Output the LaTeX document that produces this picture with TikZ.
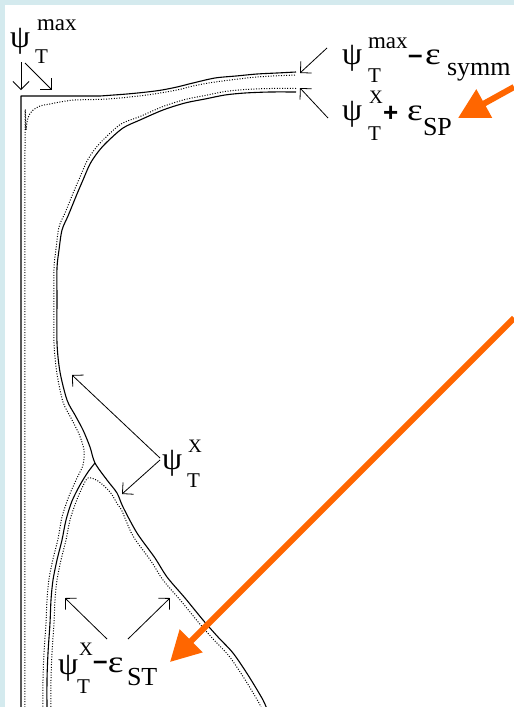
\documentclass[tikz,border=0pt]{standalone}
\usepackage{fontspec}
\usepackage{graphicx}
\usetikzlibrary{arrows.meta}
\newfontfamily\lserif{Liberation Serif}
\newfontfamily\lsans{Liberation Sans}
\definecolor{bgblue}{RGB}{212,234,238}
\definecolor{arrorange}{RGB}{255,102,0}
\newcommand{\fpsi}{\lserif\fontsize{32}{32}\selectfont}
\newcommand{\feps}{\lserif\fontsize{31}{31}\selectfont}
\newcommand{\fsupmax}{\lserif\fontsize{23}{23}\selectfont}
\newcommand{\fsupX}{\lserif\fontsize{19}{19}\selectfont}
\newcommand{\fsubT}{\lserif\fontsize{21}{21}\selectfont}
\newcommand{\fsubw}{\lserif\fontsize{26}{26}\selectfont}
\newcommand{\fop}{\lsans\bfseries\fontsize{26}{26}\selectfont}
\newcommand{\psisym}{{\fpsi ψ}}
\newcommand{\epssym}{\scalebox{1.2}[1]{\feps ε}}
\tikzset{
  lab/.style={anchor=base west, inner sep=0pt, outer sep=0pt},
  solidc/.style={line width=1.1pt, black, line join=round},
  dotc/.style={line width=1pt, black, dash pattern=on 1pt off 1.6pt},
  thinarrow/.style={line width=0.8pt, black, -{Straight Barb[length=8pt,width=16pt]}},
  orangearrow/.style={arrorange, line width=6pt, -{Triangle[length=30pt,width=31pt]}}
}
\begin{document}
\begin{tikzpicture}[x=1pt,y=-1pt]
\useasboundingbox (0,0) rectangle (514,707);
\fill[bgblue] (0,0) rectangle (514,707);
\fill[white] (5,5) rectangle (514,707);
\begin{scope}
\clip (5,5) rectangle (514,707);
% outer boundary (solid) and its dotted companion
\draw[solidc] (21,710) -- (21,96) -- (100,96)
  plot[smooth, tension=0.5] coordinates {(100,96) (127,94) (147,92) (162,90) (177,87) (193,83) (215,78) (236,76) (257,74) (277,73) (296,72)};
\draw[dotc] plot[smooth, tension=0.5] coordinates {(25,710) (25,150) (26,130) (28,118) (32,111) (40,106) (50,104) (60,102) (75,100) (108,99) (147,95) (177,90) (193,86) (215,82) (257,77) (296,75)};
% inner curve: upper part continuing into lower-right branch
\draw[solidc] plot[smooth, tension=0.5] coordinates {(296,92) (270,92) (245,93) (225,95) (205,99) (185,103) (163,110) (140,120) (123,128) (107,142) (98,152) (90,164) (83,180) (77,194) (68,216) (62,230) (59,250) (57,268) (57,300) (57,343) (60,372) (67,400) (75,415) (83,430) (90,447) (95,463) (107,480) (117,493) (123,507) (137,533) (155,558) (167,577) (185,598) (203,620) (218,637) (233,653) (248,675) (263,700) (268,712)};
% lower-left branch
\draw[solidc] plot[smooth, tension=0.5] coordinates {(95,463) (88,472) (80,485) (72,501) (66,520) (62,540) (57,560) (53,580) (51,600) (50,623) (48,653) (47,680) (47,712)};
% outer dotted companion of the inner curve
\draw[dotc] plot[smooth, tension=0.5] coordinates {(296,88.5) (270,88.5) (245,89.5) (225,91.5) (205,95.5) (185,99.5) (163,106.5) (140,116.5) (121,124) (104,139) (95,149) (87,161) (80,177) (74,191) (65,213) (59,227) (56,249) (54,268) (54,300) (54,343) (57,374) (63,402) (71,418) (79,434) (84,450) (83,465) (77,478) (69,496) (62,517) (58,539) (53,559) (49,579) (47,600) (46,623) (44,653) (43,680) (43,712)};
% dotted arch below the fork
\draw[dotc] plot[smooth, tension=0.5] coordinates {(51,712) (51,680) (52,653) (54,623) (55,600) (57,580) (61,560) (66,540) (70,520) (76,502) (82,488) (88,478) (98,481) (110,492) (118,505) (122,511) (133,536) (151,561) (163,580) (181,601) (199,623) (214,640) (229,656) (244,678) (259,703) (263,712)};
\end{scope}
% labels
\node[lab] (tl) at (10,47) {\makebox[25pt][l]{\psisym}\rlap{\raisebox{-16pt}{\fsubT T}}\hspace*{2pt}\raisebox{17pt}{\fsupmax max}};
\node[lab] (l1) at (342,64) {\makebox[26pt][l]{\psisym}\rlap{\raisebox{-18pt}{\fsubT T}}\makebox[40pt][l]{\raisebox{16pt}{\fsupmax max}}\makebox[17pt][l]{\raisebox{1pt}{\fop –}}\makebox[22pt][l]{\epssym}\raisebox{-11pt}{\fsubw symm}};
\node[lab] (l2) at (342,120) {\makebox[26pt][l]{\psisym}\rlap{\raisebox{-20pt}{\fsubT T}}\hspace*{1pt}\makebox[14pt][l]{\raisebox{17pt}{\fsupX X}}\makebox[24pt][l]{\raisebox{-1pt}{\fop +}}\makebox[16pt][l]{\epssym}\raisebox{-15pt}{\fsubw SP}};
\node[lab] (l3) at (162,469) {\makebox[25pt][l]{\psisym}\rlap{\raisebox{-18pt}{\fsubT T}}\hspace*{1pt}\raisebox{17pt}{\fsupX X}};
\node[lab] (l4) at (58,674) {\makebox[19pt][l]{\psisym}\rlap{\raisebox{-19pt}{\fsubT T}}\hspace*{2pt}\makebox[14pt][l]{\raisebox{19pt}{\fsupX X}}\makebox[15pt][l]{\raisebox{4.5pt}{\fop –}}\makebox[19pt][l]{\raisebox{2pt}{\epssym}}\raisebox{-11pt}{\fsubw ST}};
% arrow end points
\coordinate (tla) at (21,62);  \coordinate (tlae) at (21,90);
\coordinate (tlb) at (25,63);  \coordinate (tlbe) at (52,90);
\coordinate (l1a) at (327,48); \coordinate (l1ae) at (300,73);
\coordinate (l2a) at (328,118);\coordinate (l2ae) at (300,88);
\coordinate (l3a) at (160,458);\coordinate (l3ae) at (72,375);
\coordinate (l3b) at (160,460);\coordinate (l3be) at (122,494);
\coordinate (l4a) at (107,639);\coordinate (l4ae) at (65,598);
\coordinate (l4b) at (128,639);\coordinate (l4be) at (170,598);
\draw[thinarrow] (tla) -- (tlae);
\draw[thinarrow] (tlb) -- (tlbe);
\draw[thinarrow] (l1a) -- (l1ae);
\draw[thinarrow] (l2a) -- (l2ae);
\draw[thinarrow] (l3a) -- (l3ae);
\draw[thinarrow] (l3b) -- (l3be);
\draw[thinarrow] (l4a) -- (l4ae);
\draw[thinarrow] (l4b) -- (l4be);
% orange arrows
\coordinate (o1s) at (514,87);  \coordinate (o1e) at (458,118);
\coordinate (o2s) at (514,318); \coordinate (o2e) at (170,662);
\begin{scope}
\clip (5,5) rectangle (514,707);
\draw[orangearrow] (o1s) -- (o1e);
\draw[orangearrow] (o2s) -- (o2e);
\end{scope}
\end{tikzpicture}
\end{document}
